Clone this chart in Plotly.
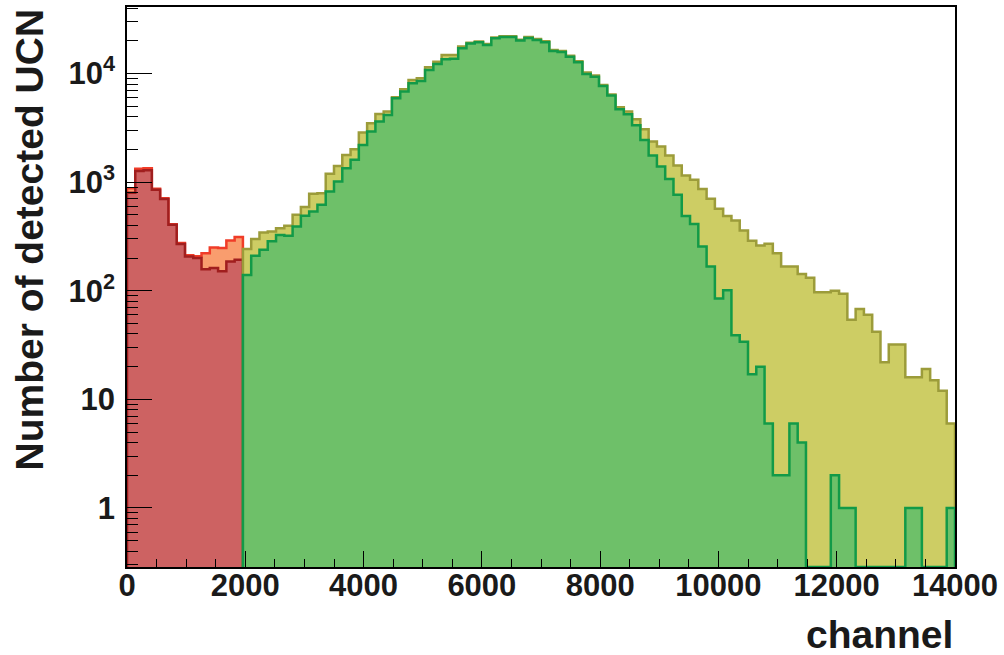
import plotly.graph_objects as go
import numpy as np

# ---------------- data (counts per 140-channel bin) ----------------
bin_width = 140
n_bins = 100

# low-channel part (bins 0..13)
orange_counts = [880, 1330, 1340, 870, 710, 410, 275, 212, 208, 222, 250, 247, 290, 312]
red_counts = [800, 1270, 1290, 850, 700, 405, 270, 207, 200, 158, 162, 151, 186, 193]

# high-channel part (bins 14..99)
yellow_counts = [242, 299, 344, 351, 377, 396, 500, 589, 780, 792,
                 1192, 1412, 1782, 2014, 2860, 3490, 4250, 4467, 6050, 7180,
                 8730, 9060, 11430, 12850, 14800, 14800, 17700, 19200, 19700, 18700,
                 21500, 22100, 22100, 20500, 21700, 20800, 19800, 16500, 16100, 14600,
                 13000, 10200, 9600, 7850, 6400, 4900, 4467, 3800, 3075, 2365,
                 2128, 1759, 1423, 1152, 1050, 867, 702, 568, 489, 443,
                 359, 289, 261, 271, 222, 167, 167, 143, 132, 97,
                 97, 100, 94, 54, 68, 60, 42, 22, 32, 32,
                 16, 16, 19, 15, 12, 6]
green_counts = [140, 210, 238, 285, 327, 321, 391, 490, 537, 619,
                820, 1013, 1345, 1604, 2203, 2923, 3612, 4160, 5930, 6820,
                8130, 8550, 10790, 12250, 13540, 13710, 17090, 18900, 19400, 18330,
                21140, 21730, 21730, 20100, 21290, 20380, 19400, 16150, 15810, 14310,
                12710, 9910, 9360, 7690, 6270, 4700, 4225, 3340, 2450, 1760,
                1390, 1070, 764, 489, 411, 256, 167, 85, 101, 39,
                34, 17, 20, 6, 2, 2, 6, 4, 0, 0,
                0, 2, 1, 1, 0, 0, 0, 0, 0, 0,
                1, 1, 0, 0, 0, 1]

x_ticks = [0, 2000, 4000, 6000, 8000, 10000, 12000, 14000]
x_ticktext = ["0", "2000", "4000", "6000", "8000", "10000", "12000", "14000"]
y_tickvals = [1, 10, 100, 1000, 10000]
y_ticktext = ["1", "10", "10<sup>2</sup>", "10<sup>3</sup>", "10<sup>4</sup>"]

y_range_log = [-0.5436, 4.6128]

# ---------------- helpers ----------------
edges = np.arange(n_bins + 1) * bin_width
y_floor = 10 ** y_range_log[0]
far_below = 1e-3


def step_polygon(first_bin, counts):
    e = edges[first_bin:first_bin + len(counts) + 1]
    xs = [e[0]]
    ys = [far_below]
    for i, v in enumerate(counts):
        v = v if v > 0 else y_floor
        xs += [e[i], e[i + 1]]
        ys += [v, v]
    xs.append(e[-1])
    ys.append(far_below)
    return xs, ys


fig = go.Figure()

specs = [
    (0, orange_counts, "#F99D6E", "#F03C28", 2.5),
    (0, red_counts, "#CD6262", "#A01E1E", 2.5),
    (14, yellow_counts, "#CDCD64", "#9C9C3A", 2.5),
    (14, green_counts, "#6EC069", "#129A48", 2.5),
]
for first, counts, fillc, linec, lw in specs:
    xs, ys = step_polygon(first, counts)
    fig.add_trace(go.Scatter(x=xs, y=ys, mode="lines", fill="toself",
                             fillcolor=fillc, line=dict(color=linec, width=lw),
                             hoverinfo="skip", showlegend=False))

minor_y = [m * 10 ** e for e in range(-1, 5) for m in range(2, 10)
           if y_range_log[0] < np.log10(m * 10 ** e) < y_range_log[1]]

tick_font = dict(family="Liberation Sans, Arial, sans-serif", size=31, color="#1a1a1a", weight="bold")
title_font = dict(family="Liberation Sans, Arial, sans-serif", size=39, color="#1a1a1a", weight="bold")

fig.update_layout(
    width=1004, height=655,
    margin=dict(l=127, r=49, t=7, b=88),
    paper_bgcolor="white", plot_bgcolor="white",
    showlegend=False,
    xaxis=dict(range=[0, 14000], tickvals=x_ticks, ticktext=x_ticktext, ticks="inside", ticklen=16,
               tickwidth=1, tickcolor="black", showline=True, linecolor="black",
               linewidth=1.5, mirror=True, showgrid=False, zeroline=False,
               tickfont=tick_font, ticklabelstandoff=-10, automargin=False,
               minor=dict(dtick=500, ticks="inside", ticklen=8, tickwidth=1,
                          tickcolor="black", showgrid=False)),
    yaxis=dict(type="log", range=y_range_log, tickvals=y_tickvals, ticktext=y_ticktext,
               ticks="inside", ticklen=25, tickwidth=1, tickcolor="black",
               showline=True, linecolor="black", linewidth=1.5, mirror=True,
               showgrid=False, zeroline=False, tickfont=tick_font, ticklabelstandoff=4,
               automargin=False,
               minor=dict(tickvals=minor_y, ticks="inside", ticklen=11, tickwidth=1,
                          tickcolor="black", showgrid=False)),
    annotations=[
        dict(text="Number of detected UCN", textangle=-90, xref="paper", yref="paper",
             x=(28.5 - 127) / 828, y=1, xanchor="center", yanchor="top", showarrow=False,
             font=title_font),
        dict(text="channel", xref="paper", yref="paper", x=1, y=0, xanchor="right",
             yanchor="middle", yshift=-67, showarrow=False, font=title_font),
    ],
)

fig.write_html("out.html", config={"displayModeBar": False},
               post_script="document.body.style.margin='0px';")
